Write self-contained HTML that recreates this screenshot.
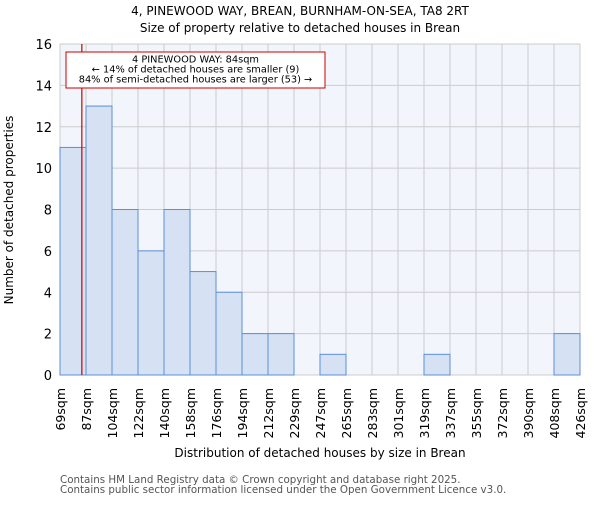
<!DOCTYPE html>
<html><head><meta charset="utf-8"><style>
body{margin:0;background:#fff}
svg{font-family:"DejaVu Sans","Liberation Sans",sans-serif}
</style></head><body>
<svg id="c" width="600" height="500">
<text x="300" y="15" text-anchor="middle" font-size="12">4, PINEWOOD WAY, BREAN, BURNHAM-ON-SEA, TA8 2RT</text>
<text x="300" y="32" text-anchor="middle" font-size="12">Size of property relative to detached houses in Brean</text>
<rect x="60" y="44" width="520" height="331" fill="#f2f5fc"/>
<g id="grid"></g><g id="bars"></g><g id="ticks"></g>
<text x="320" y="457" text-anchor="middle" font-size="12">Distribution of detached houses by size in Brean</text>
<text transform="translate(13,210) rotate(-90)" text-anchor="middle" font-size="12">Number of detached properties</text>
<text x="60" y="483" font-size="10.3" fill="#555">Contains HM Land Registry data © Crown copyright and database right 2025.</text>
<text x="60" y="493" font-size="10.3" fill="#555">Contains public sector information licensed under the Open Government Licence v3.0.</text>
</svg>
<script>
const tickLabels=["69sqm","87sqm","104sqm","122sqm","140sqm","158sqm","176sqm","194sqm","212sqm","229sqm","247sqm","265sqm","283sqm","301sqm","319sqm","337sqm","355sqm","372sqm","390sqm","408sqm","426sqm"];
const counts=[11,13,8,6,8,5,4,2,2,0,1,0,0,0,1,0,0,0,0,2];
const yTicks=[0,2,4,6,8,10,12,14,16];
const subjectSize=84;
const binStart=69, binWidth=17.85;
const ns="http://www.w3.org/2000/svg";
const L=60,R=580,T=44,B=375;
const bw=(R-L)/counts.length;
const X=i=>L+i*bw;
const Y=v=>B-(v/16)*(B-T);
function mk(t,a,p){const e=document.createElementNS(ns,t);for(const k in a)e.setAttribute(k,a[k]);p.appendChild(e);return e;}
const g=document.getElementById('grid'),bs=document.getElementById('bars'),tk=document.getElementById('ticks');
yTicks.forEach(v=>{
 const l=mk('line',{x1:L,x2:R,y1:Y(v),y2:Y(v),stroke:'#ccc','stroke-width':1},g);
 
 
 const t=mk('text',{x:L-8,y:Y(v)+5,'text-anchor':'end','font-size':13},tk);
 t.textContent=v;
 
 
});
tickLabels.forEach((s,i)=>{
 const l=mk('line',{x1:X(i),x2:X(i),y1:T,y2:B,stroke:'#ccc','stroke-width':1},g);
 
 
 const t=mk('text',{transform:`translate(${X(i)+5},388) rotate(-90)`,'text-anchor':'end','font-size':12.5},tk);
 t.textContent=s;
 
 
});
counts.forEach((v,i)=>{
 if(!v)return;
 const r=mk('rect',{x:X(i),y:Y(v),width:bw,height:B-Y(v),fill:'#d6e1f4',stroke:'#5b8fd6','stroke-width':1},bs);
 
 
});
const svg=document.getElementById('c');
const rx=L+(subjectSize-binStart)/binWidth*bw;
const rl=mk('line',{x1:rx,x2:rx,y1:T,y2:B,stroke:'#cc0000','stroke-width':1.2},svg);


const box=mk('g',{},svg);


mk('rect',{x:66,y:52,width:259,height:36,fill:'#fff',stroke:'#cc0000','stroke-width':1},box);
[["4 PINEWOOD WAY: 84sqm",62.5],["← 14% of detached houses are smaller (9)",72.5],["84% of semi-detached houses are larger (53) →",82.5]].forEach(([s,y])=>{
 const t=mk('text',{x:195.5,y:y,'text-anchor':'middle','font-size':9.8},box);t.textContent=s;
});
</script>
</body></html>
